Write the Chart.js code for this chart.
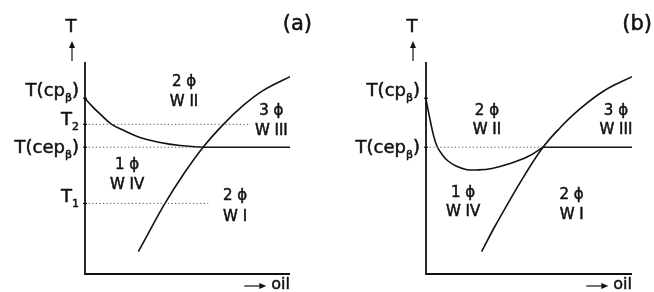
<!DOCTYPE html>
<html lang="en">
<head>
  <meta charset="UTF-8" />
  <title>Phase diagrams (a) and (b)</title>
  <script src="https://cdn.jsdelivr.net/npm/chart.js"></script>
  <style>
    * { box-sizing: border-box; }
    body {
      margin: 0;
      background: #ffffff;
      width: 654px;
      height: 292px;
      overflow: hidden;
      position: relative;
    }
    canvas {
      position: absolute;
      top: 0;
    }
    #chartA { left: 0; }
    #chartB { left: 327px; }
  </style>
</head>
<body>
  <canvas id="chartA" width="327" height="292"></canvas>
  <canvas id="chartB" width="327" height="292"></canvas>

<script>
// ---- panel (a) data (x: oil axis 0..100, y: T axis 0..100) ----
const aUpperCurveX = [0, 3.4, 7.3, 13.0, 19.5, 26.8, 36.6, 46.3, 57.6];
const aUpperCurveY = [82.9, 79.2, 75.5, 70.6, 67.5, 64.4, 62.0, 60.6, 59.8];
const aRisingCurveX = [26.0, 31.8, 39.0, 47.8, 57.6, 67.5, 77.2, 87.0, 100];
const aRisingCurveY = [10.5, 20.8, 33.3, 46.7, 59.8, 70.6, 79.5, 86.6, 93.1];
const aTickValues = [82.9, 70.6, 59.8, 33.3];
const aTickLabels = [["T(cp", "β", ")"], ["T", "2", ""], ["T(cep", "β", ")"], ["T", "1", ""]];
const aDottedEnds = [null, 79.7, 57.6, 60.1];
const aCepLevel = 59.8;

// ---- panel (b) data ----
const bUpperCurveX = [0, 1.0, 2.2, 3.6, 5.3, 7.8, 10.7, 14.6, 19.4, 25.2, 32.0, 40.8, 49.5, 56.8];
const bUpperCurveY = [82.5, 77.4, 71.7, 65.6, 60.4, 56.4, 53.3, 50.9, 49.3, 49.1, 49.8, 52.1, 55.4, 59.8];
const bRisingCurveX = [27.0, 33.0, 39.8, 47.6, 56.8, 65.0, 73.2, 85.9, 100];
const bRisingCurveY = [10.5, 21.7, 33.3, 46.2, 59.8, 68.9, 76.6, 86.1, 93.1];
const bTickValues = [82.9, 59.8];
const bTickLabels = [["T(cp", "β", ")"], ["T(cep", "β", ")"]];
const bDottedEnds = [null, 56.8];
const bCepLevel = 59.8;

// region names: phases, name, x, y of phases, y of name
const aRegions = [
  ["2 ϕ", "W II", 48.3, 90.7, 81.0],
  ["3 ϕ", "W III", 90.9, 76.9, 67.5],
  ["1 ϕ", "W IV", 20.5, 51.4, 42.0],
  ["2 ϕ", "W I", 73.2, 36.8, 27.0]
];
const bRegions = [
  ["2 ϕ", "W II", 29.6, 76.6, 67.9],
  ["3 ϕ", "W III", 92.2, 76.6, 67.9],
  ["1 ϕ", "W IV", 18.0, 38.2, 29.4],
  ["2 ϕ", "W I", 70.7, 37.3, 27.8]
];

const FONT = "'DejaVu Sans', Verdana, sans-serif";
const INK = '#111111';

function pts(xs, ys) {
  return xs.map((x, i) => ({ x: x, y: ys[i] }));
}

function curveSet(data) {
  return {
    data: data,
    showLine: true,
    borderColor: INK,
    borderWidth: 1.6,
    pointRadius: 0,
    tension: 0.4
  };
}

function dottedSet(data) {
  return {
    data: data,
    showLine: true,
    borderColor: '#555555',
    borderWidth: 1,
    borderDash: [1.2, 2.4],
    pointRadius: 0,
    tension: 0
  };
}

function drawArrow(ctx, x1, y1, x2, y2) {
  const ang = Math.atan2(y2 - y1, x2 - x1);
  const hl = 7, hw = 3;
  ctx.beginPath();
  ctx.moveTo(x1, y1);
  ctx.lineTo(x2 - hl * Math.cos(ang), y2 - hl * Math.sin(ang));
  ctx.stroke();
  ctx.beginPath();
  ctx.moveTo(x2, y2);
  ctx.lineTo(x2 - hl * Math.cos(ang) - hw * Math.sin(ang), y2 - hl * Math.sin(ang) + hw * Math.cos(ang));
  ctx.lineTo(x2 - hl * Math.cos(ang) + hw * Math.sin(ang), y2 - hl * Math.sin(ang) - hw * Math.cos(ang));
  ctx.closePath();
  ctx.fill();
}

// text with a thin outline so it reads a little heavier
function heavyText(ctx, s, x, y) {
  ctx.fillText(s, x, y);
  ctx.strokeText(s, x, y);
}

// draws "main sub tail" right-aligned at x
function drawSubLabel(ctx, parts, xRight, baseline) {
  const main = '18px ' + FONT, small = '11px ' + FONT;
  ctx.font = main;
  const w1 = ctx.measureText(parts[0]).width;
  const w3 = ctx.measureText(parts[2]).width;
  ctx.font = small;
  const w2 = ctx.measureText(parts[1]).width;
  let x = xRight - (w1 + w2 + w3);
  ctx.textAlign = 'left';
  ctx.textBaseline = 'alphabetic';
  ctx.font = main;
  heavyText(ctx, parts[0], x, baseline);
  x += w1;
  ctx.font = small;
  heavyText(ctx, parts[1], x, baseline + 5);
  x += w2;
  ctx.font = main;
  heavyText(ctx, parts[2], x, baseline);
}

function decorPlugin(opt) {
  return {
    id: 'decor',
    afterDatasetsDraw(chart) {
      const ctx = chart.ctx;
      const xs = chart.scales.x, ys = chart.scales.y;
      const a = chart.chartArea;
      ctx.save();
      ctx.strokeStyle = INK;
      ctx.fillStyle = INK;
      ctx.lineWidth = 1.8;

      // axes
      ctx.beginPath();
      ctx.moveTo(a.left, a.top);
      ctx.lineTo(a.left, a.bottom);
      ctx.lineTo(a.right, a.bottom);
      ctx.stroke();

      // T with arrow
      ctx.lineWidth = 0.5;
      ctx.font = '18px ' + FONT;
      ctx.textAlign = 'center';
      ctx.textBaseline = 'middle';
      heavyText(ctx, 'T', a.left - 14, 27);
      ctx.lineWidth = 1.2;
      drawArrow(ctx, a.left - 13, 61, a.left - 13, 41);

      // panel letter
      ctx.lineWidth = 0.5;
      ctx.font = '21px ' + FONT;
      ctx.textAlign = 'right';
      heavyText(ctx, opt.letter, opt.letterX, 25);

      // oil arrow
      ctx.font = '16px ' + FONT;
      ctx.textAlign = 'right';
      ctx.textBaseline = 'middle';
      heavyText(ctx, 'oil', a.right, 285);
      const ow = ctx.measureText('oil').width;
      ctx.lineWidth = 1.2;
      drawArrow(ctx, a.right - ow - 27, 286, a.right - ow - 5, 286);

      // y tick labels
      opt.ticks.forEach((v, i) => {
        const py = ys.getPixelForValue(v);
        ctx.lineWidth = 1.2;
        ctx.beginPath();
        ctx.moveTo(a.left - 2, py);
        ctx.lineTo(a.left + 2, py);
        ctx.stroke();
        ctx.lineWidth = 0.5;
        drawSubLabel(ctx, opt.labels[i], a.left - 6, py + opt.offsets[i]);
      });

      // region names
      ctx.lineWidth = 0.5;
      ctx.textAlign = 'center';
      ctx.textBaseline = 'middle';
      opt.regions.forEach(r => {
        const px = xs.getPixelForValue(r[2]);
        ctx.font = '15px ' + FONT;
        heavyText(ctx, r[0], px, ys.getPixelForValue(r[3]));
        heavyText(ctx, r[1], px, ys.getPixelForValue(r[4]));
      });
      ctx.restore();
    }
  };
}

function buildPanel(id, curves, dotted, padding, opt) {
  const datasets = [];
  dotted.forEach(d => datasets.push(dottedSet(d)));
  curves.forEach(c => datasets.push(curveSet(c)));
  return new Chart(document.getElementById(id), {
    type: 'scatter',
    data: { datasets: datasets },
    options: {
      responsive: false,
      animation: false,
      layout: { padding: padding },
      plugins: { legend: { display: false }, tooltip: { enabled: false } },
      scales: {
        x: { type: 'linear', min: 0, max: 100, display: false },
        y: { type: 'linear', min: 0, max: 100, display: false }
      }
    },
    plugins: [decorPlugin(opt)]
  });
}

function dottedLines(values, ends) {
  const out = [];
  values.forEach((v, i) => {
    if (ends[i] !== null) out.push([{ x: 0, y: v }, { x: ends[i], y: v }]);
  });
  return out;
}

buildPanel('chartA',
  [pts(aUpperCurveX, aUpperCurveY), pts(aRisingCurveX, aRisingCurveY),
   [{ x: aUpperCurveX[aUpperCurveX.length - 1], y: aCepLevel }, { x: 100, y: aCepLevel }]],
  dottedLines(aTickValues, aDottedEnds),
  { left: 85, right: 37, top: 62, bottom: 18 },
  { letter: '(a)', letterX: 312, ticks: aTickValues, labels: aTickLabels,
    offsets: [-2, 1, 6, -1], regions: aRegions });

buildPanel('chartB',
  [pts(bUpperCurveX, bUpperCurveY), pts(bRisingCurveX, bRisingCurveY),
   [{ x: bUpperCurveX[bUpperCurveX.length - 1], y: bCepLevel }, { x: 100, y: bCepLevel }]],
  dottedLines(bTickValues, bDottedEnds),
  { left: 99, right: 22, top: 62, bottom: 18 },
  { letter: '(b)', letterX: 325, ticks: bTickValues, labels: bTickLabels,
    offsets: [-2, 6], regions: bRegions });
</script>
</body>
</html>
